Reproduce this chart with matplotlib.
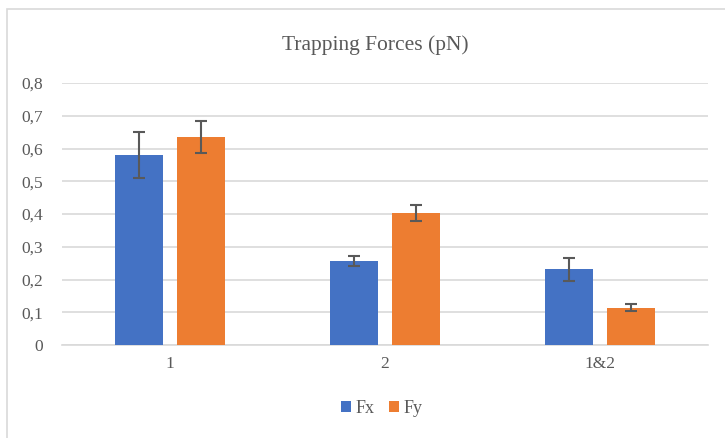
import numpy as np
import matplotlib.pyplot as plt
from matplotlib.patches import Rectangle

# data
categories = ['1', '2', '1&2']
fx = [0.581, 0.257, 0.231]
fy = [0.635, 0.403, 0.114]
fx_err = [0.070, 0.015, 0.036]
fy_err = [0.049, 0.025, 0.011]
y_ticks = [0, 0.1, 0.2, 0.3, 0.4, 0.5, 0.6, 0.7, 0.8]
y_tick_labels = ['0', '0,1', '0,2', '0,3', '0,4', '0,5', '0,6', '0,7', '0,8']

plt.rcParams['font.family'] = ['Liberation Serif', 'DejaVu Serif']
gray = '#595959'

fig = plt.figure(figsize=(7.25, 4.38), dpi=100)
ax = fig.add_axes([0.0862, 0.2123, 0.8897, 0.5982])

# chart frame
fig.patches.append(Rectangle((7 / 725, -0.1), 1.2, 1 - 9 / 438 + 0.1,
                             transform=fig.transFigure, fill=False,
                             edgecolor='#d9d9d9', linewidth=1.2))

x = np.arange(len(categories))
w = 0.225
off = 0.144
ekw = dict(ecolor=gray, elinewidth=1.5, capsize=4.5, capthick=1.5)
ax.bar(x - off, fx, w, yerr=fx_err, color='#4472C4', label='Fx',
       error_kw=ekw, zorder=3)
ax.bar(x + off, fy, w, yerr=fy_err, color='#ED7D31', label='Fy',
       error_kw=ekw, zorder=3)

ax.set_xlim(-0.5, len(categories) - 0.5)
ax.set_ylim(0, 0.8)
ax.set_yticks(y_ticks)
ax.set_yticklabels(y_tick_labels)
ax.set_xticks(x)
ax.set_xticklabels(categories)
ax.tick_params(length=0, colors=gray, labelsize=12.5)
ax.tick_params(axis='x', pad=8)
ax.tick_params(axis='y', pad=14)
ax.grid(axis='y', color='#d9d9d9', linewidth=1.2, zorder=0)
for s in ['top', 'right', 'left']:
    ax.spines[s].set_visible(False)
ax.spines['bottom'].set_color('#d9d9d9')
ax.spines['bottom'].set_linewidth(1.2)

fig.text(0.517, 0.898, 'Trapping Forces (pN)', ha='center', va='center',
         fontsize=15.5, color=gray)

fig.legend(loc='center', bbox_to_anchor=(0.527, 0.068), ncol=2, frameon=False,
           fontsize=13, labelcolor=gray, handlelength=0.55, handleheight=0.55,
           handletextpad=0.25, columnspacing=0.8)

fig.savefig('out.png', dpi=100)
